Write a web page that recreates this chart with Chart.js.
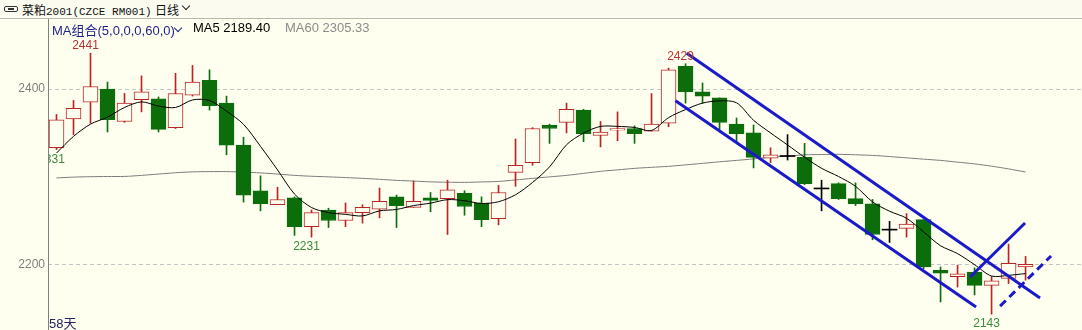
<!DOCTYPE html>
<html>
<head>
<meta charset="utf-8">
<script src="https://cdn.jsdelivr.net/npm/chart.js@4.4.0/dist/chart.umd.min.js"></script>
<style>
  html, body { margin: 0; padding: 0; background: #fffff0; }
  #wrap { position: relative; width: 1082px; height: 330px; overflow: hidden; background: #fffff0; }
  #kline { position: absolute; left: 0; top: 0; }
  .row1 { position: absolute; left: 0; top: 0; width: 1082px; height: 18px; border-bottom: 1px solid #b8b8ac; background: #fbfbf0; }
  .txt { position: absolute; white-space: nowrap; }
  .icon { position: absolute; left: 4px; top: 6px; width: 12px; height: 4px; border: 1.5px solid #333; border-radius: 2px; }
  .icon:after { content: ""; position: absolute; left: 3px; top: 1px; width: 6px; height: 1.5px; background: #333; }
  .chev { position: absolute; width: 5px; height: 5px; border-right: 1.6px solid; border-bottom: 1.6px solid; transform: rotate(45deg); }
</style>
</head>
<body>
<div id="wrap">
  <canvas id="kline" width="1082" height="330"></canvas>
  <div class="row1">
    <span class="icon"></span>
    <span class="txt" style="left:22px;top:1px;font:12px 'Noto Sans CJK SC';color:#111;">菜粕<span style="font:11px 'Liberation Mono';">2001(CZCE RM001)</span></span>
    <span class="txt" style="left:155px;top:1px;font:12px 'Noto Sans CJK SC';color:#111;">日线</span>
    <span class="chev" style="left:183px;top:3px;color:#222;"></span>
  </div>
  <span class="txt" style="left:52px;top:20px;font:13px 'Liberation Sans','Noto Sans CJK SC';color:#1e1e8c;">MA组合(5,0,0,0,60,0)</span>
  <span class="chev" style="left:175px;top:25px;color:#1e1e8c;"></span>
  <span class="txt" style="left:193px;top:20px;font:13px 'Liberation Sans';color:#000;">MA5 2189.40</span>
  <span class="txt" style="left:285px;top:20px;font:13px 'Liberation Sans';color:#8c8c8c;">MA60 2305.33</span>
  <span class="txt" style="left:49px;top:313px;font:13px 'Liberation Sans','Noto Sans CJK SC';color:#22225e;">58天</span>
</div>
<script>
// Trading days shown (58 sessions)
const days = Array.from({ length: 58 }, (_, i) => i + 1);

// Daily OHLC prices
const opens  = [2333,2366,2385,2400,2363,2388,2389,2356,2393,2410,2384,2336,2284,2268,2276,2243,2262,2250,2259,2263,
                2277,2265,2276,2275,2281,2270,2252,2305,2316,2359,2362,2376,2347,2353,2355,2352,2361,2426,2397,2390,
                2360,2350,2321,2323,2322,2286,2292,2275,2269,2239,2241,2251,2193,2186,2191,2176,2184,2197];
const highs  = [2371,2387,2441,2408,2395,2415,2391,2418,2427,2422,2392,2345,2301,2288,2277,2262,2264,2270,2268,2287,
                2279,2295,2282,2296,2284,2277,2290,2343,2356,2360,2384,2377,2363,2374,2358,2395,2424,2429,2407,2390,
                2367,2359,2333,2348,2338,2296,2293,2293,2274,2249,2258,2251,2197,2199,2196,2186,2223,2209];
const lows   = [2331,2348,2361,2351,2362,2374,2351,2355,2392,2376,2325,2271,2261,2268,2233,2231,2242,2243,2247,2253,
                2242,2265,2260,2234,2256,2243,2245,2289,2313,2338,2350,2340,2334,2341,2338,2352,2357,2384,2384,2354,
                2340,2310,2316,2319,2291,2261,2274,2267,2228,2225,2231,2195,2157,2174,2165,2143,2178,2182];
const closes = [2365,2378,2403,2365,2384,2397,2354,2395,2408,2381,2336,2279,2269,2274,2243,2259,2250,2259,2265,2272,
                2267,2272,2273,2285,2266,2251,2282,2313,2355,2355,2377,2349,2351,2355,2349,2360,2422,2397,2392,2362,
                2349,2322,2325,2323,2292,2286,2275,2269,2234,2239,2246,2197,2190,2189,2176,2181,2201,2200];

// Moving averages
const ma5  = [2327,2346,2360,2368,2379.0,2385.4,2380.6,2379.0,2387.6,2387.0,2374.8,2359.8,2334.6,2307.8,2280.2,2264.8,
              2259.0,2257.0,2255.2,2261.0,2262.6,2267.0,2269.8,2273.8,2272.6,2269.4,2271.4,2279.4,2293.4,2311.2,2336.4,
              2349.8,2357.4,2357.4,2356.2,2352.8,2367.4,2376.6,2384.0,2386.6,2384.4,2364.4,2350.0,2336.2,2322.2,2309.6,
              2300.2,2289.0,2271.2,2260.6,2252.6,2237.0,2221.2,2212.2,2199.6,2186.6,2187.4,2189.4];
const ma60 = [2298.6,2299.5,2300.0,2300.2,2300.3,2301.5,2303.0,2304.5,2305.5,2305.8,2305.8,2305.2,2304.3,2303.0,2301.5,
              2300.5,2299.8,2299.0,2298.1,2297.0,2295.8,2295.0,2294.1,2293.7,2293.5,2294.0,2294.6,2296.3,2298.1,2299.8,
              2301.5,2303.8,2306.1,2307.8,2309.5,2310.7,2311.8,2313.5,2315.2,2317.0,2318.6,2320.3,2322.1,2323.6,2324.9,
              2325.3,2325.5,2325.0,2324.3,2323.0,2321.5,2320.0,2318.6,2316.6,2314.6,2312.0,2308.9,2305.33];

// Price ticks on the left axis
const priceTicks = [2200, 2400];

// Extremes annotated with their price
const markedHighDays = [3, 38];
const markedLowDays  = [1, 16, 56];

// Hand-drawn trend lines: [startDay, startPrice, endDay, endPrice]
const channelUpper = [38.07, 2441, 58.85, 2161.5];
const channelLower = [37.41, 2386.6, 55.09, 2151.3];
const breakoutLine = [54.74, 2185.5, 57.97, 2247.2];
const breakoutDash = [56.5, 2152.3, 59.5, 2209.5];

const UP_RED = '#bb2424';
const DOWN_GREEN = '#0b6e0b';
const FLAT = '#000000';
const BG = '#fffff0';
const TREND_BLUE = '#1a1ac8';

function candleColor(i) {
  if (closes[i] > opens[i]) return UP_RED;
  if (closes[i] < opens[i]) return DOWN_GREEN;
  return FLAT;
}

function segment(seg) {
  return [{ x: seg[0], y: seg[1] }, { x: seg[2], y: seg[3] }];
}

// Solid price-axis line along the left edge of the plot
const axisLine = {
  id: 'axisLine',
  afterDraw(chart) {
    const { ctx, chartArea } = chart;
    ctx.save();
    ctx.strokeStyle = '#808080';
    ctx.lineWidth = 1;
    ctx.beginPath();
    ctx.moveTo(Math.round(chartArea.left) + 0.5, chartArea.top);
    ctx.lineTo(Math.round(chartArea.left) + 0.5, chartArea.bottom);
    ctx.stroke();
    ctx.restore();
  }
};

const extremaLabels = {
  id: 'extremaLabels',
  afterDatasetsDraw(chart) {
    const { ctx, chartArea, scales } = chart;
    const xs = scales.x, ys = scales.y;
    ctx.save();
    ctx.beginPath();
    ctx.rect(chartArea.left, chartArea.top, chartArea.right - chartArea.left, chartArea.bottom - chartArea.top);
    ctx.clip();
    ctx.font = '12px "Liberation Sans", Arial, sans-serif';
    ctx.textAlign = 'center';
    ctx.textBaseline = 'alphabetic';
    markedHighDays.forEach(d => {
      const i = days.indexOf(d);
      ctx.fillStyle = '#b83232';
      ctx.fillText(String(highs[i]), xs.getPixelForValue(d) - 5, ys.getPixelForValue(highs[i]) - 4);
    });
    markedLowDays.forEach(d => {
      const i = days.indexOf(d);
      ctx.fillStyle = '#3a8a3a';
      ctx.fillText(String(lows[i]), xs.getPixelForValue(d) - 5, ys.getPixelForValue(lows[i]) + 13);
    });
    ctx.restore();
  }
};

const trendStyle = { type: 'line', borderColor: TREND_BLUE, borderWidth: 3, pointRadius: 0, tension: 0, order: -1 };

new Chart(document.getElementById('kline'), {
  type: 'bar',
  data: {
    labels: days,
    datasets: [
      { type: 'line', label: 'MA5', data: ma5, borderColor: '#000', borderWidth: 1, pointRadius: 0, tension: 0.3, order: 0 },
      { type: 'line', label: 'MA60', data: ma60, borderColor: '#7c7c7c', borderWidth: 1, pointRadius: 0, tension: 0.3, order: 3 },
      { label: 'body', data: opens.map((o, i) => [o, closes[i]]), grouped: false, barThickness: 15, minBarLength: 1,
        backgroundColor: c => closes[c.dataIndex] > opens[c.dataIndex] ? BG : candleColor(c.dataIndex),
        borderColor: c => candleColor(c.dataIndex),
        borderWidth: c => closes[c.dataIndex] === opens[c.dataIndex] ? 0 : 1,
        borderSkipped: false, order: 1 },
      { label: 'wick', data: lows.map((l, i) => [l, highs[i]]), grouped: false, barThickness: 1,
        backgroundColor: c => candleColor(c.dataIndex), borderWidth: 0, order: 2 },
      Object.assign({ label: 'upper', data: segment(channelUpper) }, trendStyle),
      Object.assign({ label: 'lower', data: segment(channelLower) }, trendStyle),
      Object.assign({ label: 'breakout', data: segment(breakoutLine) }, trendStyle),
      Object.assign({ label: 'breakoutDash', data: segment(breakoutDash), borderDash: [8, 5] }, trendStyle)
    ]
  },
  options: {
    responsive: false,
    animation: false,
    devicePixelRatio: 1,
    layout: { padding: { top: 19, left: 0, right: 0, bottom: 0 } },
    plugins: { legend: { display: false }, tooltip: { enabled: false } },
    scales: {
      x: { type: 'linear', min: 0.5, max: 61.32, offset: false, display: false },
      y: {
        min: 2125, max: 2480,
        afterFit: s => { s.width = 48; s.paddingTop = 0; s.paddingBottom = 0; },
        afterBuildTicks: s => { s.ticks = priceTicks.map(v => ({ value: v })); },
        grid: { color: '#c4c4c4', drawTicks: false },
        border: { display: false, dash: [4, 3] },
        ticks: { color: '#808080', padding: 3, callback: v => String(v),
                 font: { family: '"Liberation Sans", Arial', size: 12 } }
      }
    }
  },
  plugins: [extremaLabels, axisLine]
});
</script>
</body>
</html>
